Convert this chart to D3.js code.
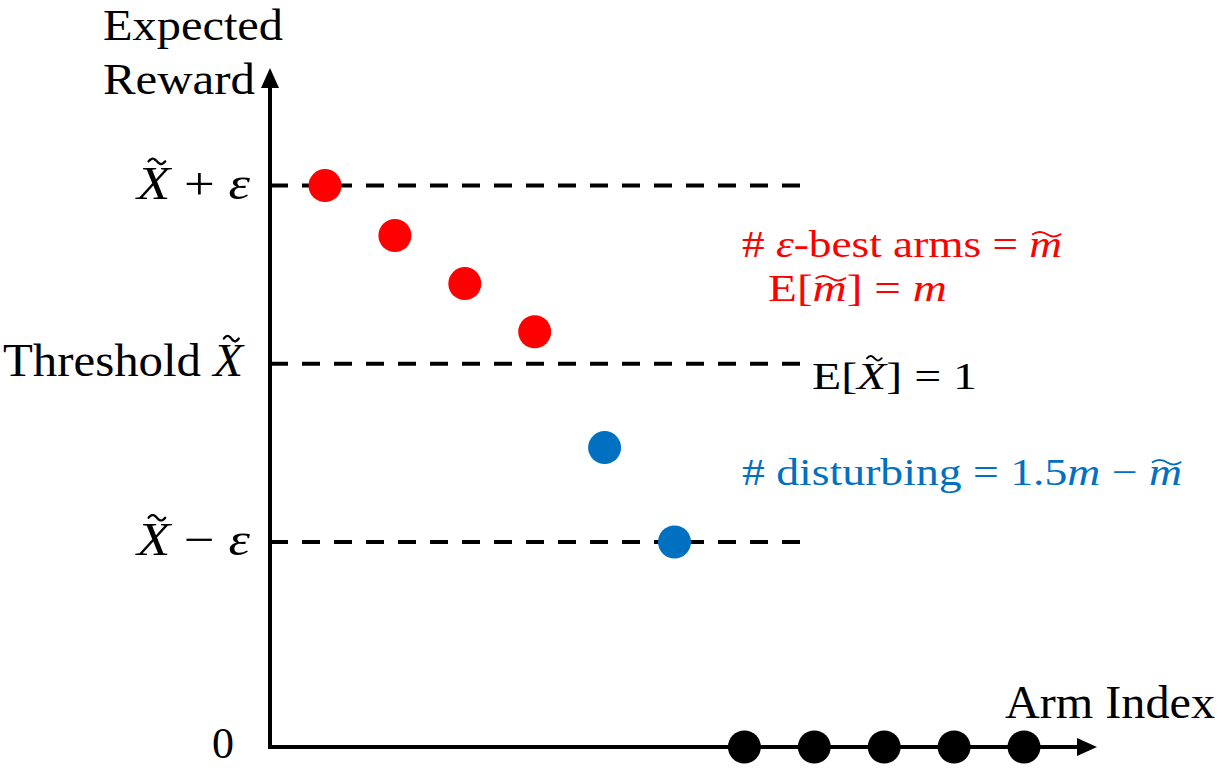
<!DOCTYPE html>
<html>
<head>
<meta charset="utf-8">
<script src="https://cdn.jsdelivr.net/npm/d3@7"></script>
<style>
  body { margin: 0; background: #fff; }
  text { font-family: "Liberation Serif", "Times New Roman", serif; }
</style>
</head>
<body>
<script>
var width = 1222;
var height = 778;

// arms: index, expected reward, group
var armIndex = [1, 2, 3, 4, 5, 6, 7, 8, 9, 10, 11];
var armReward = [1.1, 1.072, 1.045, 1.018, 0.953, 0.9, 0, 0, 0, 0, 0];
var armGroup = ['best', 'best', 'best', 'best', 'disturbing', 'disturbing', 'low', 'low', 'low', 'low', 'low'];
var groupColor = { best: '#ff0000', disturbing: '#0070c0', low: '#000000' };

// reference levels (threshold = 1, eps = 0.1)
var levelValues = [1.1, 1.0, 0.9];
var yMax = 1.166;

var svg = d3.select('body')
    .append('svg')
    .attr('width', width)
    .attr('height', height);

// broken value axis: 0 sits far below the band around the threshold
var yScale = d3.scaleLinear()
    .domain([0, 0.9, yMax])
    .range([747, 542, 68]);

var xScale = d3.scaleLinear()
    .domain([1, 11])
    .range([325, 1024]);

var originX = 270;
var originY = yScale(0);
var xEnd = 1097;

// dashed reference lines
svg.selectAll('line.level')
    .data(levelValues)
    .enter()
    .append('line')
    .attr('class', 'level')
    .attr('x1', originX)
    .attr('x2', 803)
    .attr('y1', function (d) { return yScale(d); })
    .attr('y2', function (d) { return yScale(d); })
    .attr('stroke', '#000')
    .attr('stroke-width', 4)
    .attr('stroke-dasharray', '18,14');

// axes
svg.append('line')
    .attr('x1', originX).attr('x2', originX)
    .attr('y1', originY + 2).attr('y2', yScale(yMax) + 16)
    .attr('stroke', '#000').attr('stroke-width', 4);
svg.append('path')
    .attr('d', 'M' + originX + ',' + yScale(yMax) + 'l-9,20h18z')
    .attr('fill', '#000');

svg.append('line')
    .attr('x1', originX - 2).attr('x2', xEnd - 16)
    .attr('y1', originY).attr('y2', originY)
    .attr('stroke', '#000').attr('stroke-width', 4);
svg.append('path')
    .attr('d', 'M' + xEnd + ',' + originY + 'l-20,-9v18z')
    .attr('fill', '#000');

// arms
svg.selectAll('circle.arm')
    .data(armIndex)
    .enter()
    .append('circle')
    .attr('class', 'arm')
    .attr('cx', function (d) { return xScale(d); })
    .attr('cy', function (d, i) { return yScale(armReward[i]); })
    .attr('r', 16.5)
    .attr('fill', function (d, i) { return groupColor[armGroup[i]]; });

// tilde accent drawn as a small wave
function tilde(x, y, w, amp, sw, color) {
    var pts = d3.range(0, 1.0001, 0.05).map(function (t) {
        return [x + t * w, y - amp * Math.sin(t * 2 * Math.PI)];
    });
    svg.append('path')
        .attr('d', d3.line().curve(d3.curveBasis)(pts))
        .attr('fill', 'none')
        .attr('stroke', color)
        .attr('stroke-width', sw)
        .attr('stroke-linecap', 'round');
}

// text built from parts; parts flagged with tilde get an accent
function mathText(parts, x, y, size, color, anchor, len) {
    var t = svg.append('text')
        .attr('x', x).attr('y', y)
        .attr('font-size', size)
        .attr('fill', color)
        .attr('text-anchor', anchor || 'start');
    if (len) t.attr('textLength', len).attr('lengthAdjust', 'spacingAndGlyphs');
    parts.forEach(function (p) {
        t.append('tspan')
            .attr('font-style', p.i ? 'italic' : 'normal')
            .text(p.t);
    });
    var idx = 0;
    parts.forEach(function (p) {
        if (p.tilde) {
            var box = t.node().getExtentOfChar(idx);
            var tall = p.t === 'X';
            var w = box.width * (tall ? 0.5 : 0.85);
            var cx = box.x + box.width / 2 + (tall ? size * 0.07 : size * 0.03);
            var ty = y - size * (tall ? 0.81 : 0.6);
            tilde(cx - w / 2, ty, w, size * 0.06, size * 0.05, color);
        }
        idx += p.t.length;
    });
    return t;
}

// axis titles
svg.append('text').attr('x', 103).attr('y', 40).attr('font-size', 44)
    .attr('textLength', 180).attr('lengthAdjust', 'spacingAndGlyphs').text('Expected');
svg.append('text').attr('x', 103).attr('y', 94).attr('font-size', 45)
    .attr('textLength', 152).attr('lengthAdjust', 'spacingAndGlyphs').text('Reward');
svg.append('text').attr('x', 1005).attr('y', 718).attr('font-size', 46)
    .attr('textLength', 210).attr('lengthAdjust', 'spacingAndGlyphs').text('Arm Index');
svg.append('text').attr('x', 234).attr('y', 758).attr('font-size', 44)
    .attr('text-anchor', 'end').text('0');

// level labels
mathText([{ t: 'X', i: true, tilde: true }, { t: ' + ' }, { t: 'ε', i: true }],
    137, yScale(1.1) + 13, 46, '#000', 'start', 113);
mathText([{ t: 'Threshold ' }, { t: 'X', i: true, tilde: true }],
    3, yScale(1.0) + 12, 46, '#000', 'start', 240);
mathText([{ t: 'X', i: true, tilde: true }, { t: ' − ' }, { t: 'ε', i: true }],
    137, yScale(0.9) + 13, 46, '#000', 'start', 113);

// annotations
mathText([{ t: '# ' }, { t: 'ε', i: true }, { t: '-best arms = ' }, { t: 'm', i: true, tilde: true }],
    742, 257, 38, '#ff0000', 'start', 320);
mathText([{ t: 'E[' }, { t: 'm', i: true, tilde: true }, { t: '] = ' }, { t: 'm', i: true }],
    768, 301, 38, '#ff0000', 'start', 179);
mathText([{ t: 'E[' }, { t: 'X', i: true, tilde: true }, { t: '] = 1' }],
    812, 389, 38, '#000', 'start', 165);
mathText([{ t: '# disturbing = 1.5' }, { t: 'm', i: true }, { t: ' − ' }, { t: 'm', i: true, tilde: true }],
    742, 485, 38, '#0070c0', 'start', 440);
</script>
</body>
</html>
